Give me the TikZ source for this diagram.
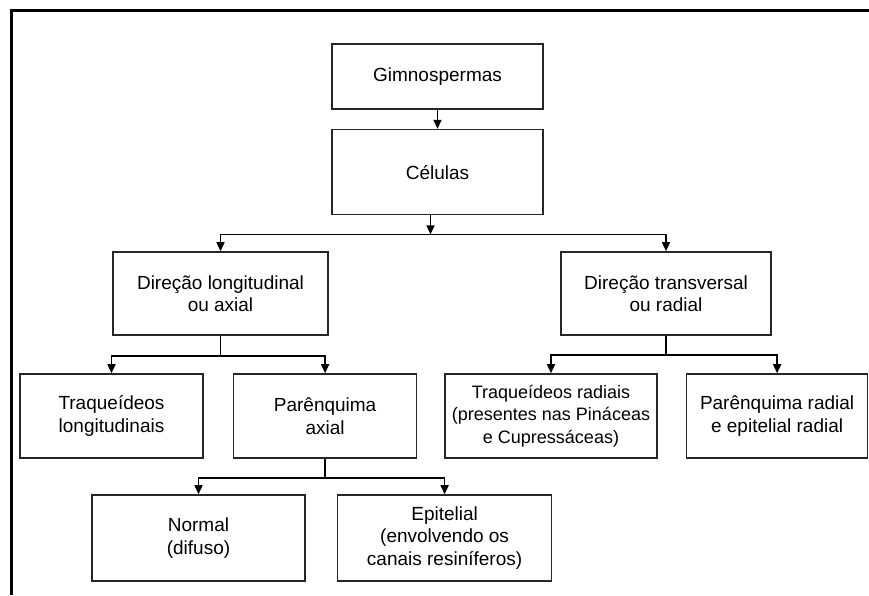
\documentclass[tikz,border=0pt]{standalone}
\usepackage{fontspec}
\setmainfont{Liberation Sans}
\usepackage{tikz}
\usetikzlibrary{arrows.meta,positioning,calc}

\begin{document}
\begin{tikzpicture}[x=1pt, y=-1pt,
  cbox/.style={draw=black!85, line width=1.6pt, minimum height=84pt, align=center,
               font=\fontsize{19}{22.5}\selectfont, inner sep=1pt},
  arrow/.style={-{Triangle[length=9pt,width=8pt]}, line width=1.6pt},
  link/.style={line width=1.6pt}
]
\useasboundingbox (0,0) rectangle (869,595);
\draw[line width=3pt] (11,595) -- (11,10) -- (869,10);

\node[cbox, minimum width=211pt, minimum height=65pt] (gim) at (437.5,76.5) {Gimnospermas};
\node[cbox, minimum width=211pt, minimum height=85pt, below=19pt of gim] (cel) {Células};
\node[cbox, minimum width=215pt, minimum height=83pt] (lon) at (220.5,293.5) {Direção longitudinal\\ ou axial};
\node[cbox, minimum width=210pt, minimum height=83pt] (tra) at (666,293.5) {Direção transversal\\ ou radial};
\node[cbox, minimum width=183pt] (tlon) at (111.5,416) {Traqueídeos\\ longitudinais};
\node[cbox, minimum width=183pt, right=29pt of tlon] (pax) {Parênquima\\ axial};
\node[cbox, minimum width=212pt, font=\fontsize{18}{22.5}\selectfont] (trad) at (551,416) {Traqueídeos radiais\\ (presentes nas Pináceas\\ e Cupressáceas)};
\node[cbox, minimum width=181pt, right=28pt of trad] (prad) {Parênquima radial\\ e epitelial radial};
\node[cbox, minimum width=213pt, minimum height=86pt] (nor) at (198.5,538) {Normal\\ (difuso)};
\node[cbox, minimum width=214pt, minimum height=86pt, right=31pt of nor] (epi) {Epitelial\\ (envolvendo os\\ canais resiníferos)};

\coordinate (j1) at ($(cel.south)+(-7,19)$);
\coordinate (j2) at ($(lon.south)+(0,20)$);
\coordinate (j3) at ($(tra.south)+(0,19)$);
\coordinate (j4) at ($(pax.south)+(0,19)$);

\draw[arrow] (gim) -- (cel);
\draw[arrow] (cel.south -| j1) -- (j1);
\draw[arrow] (j1) -| (lon.north);
\draw[arrow] (j1) -| (tra.north);
\draw[link] (lon.south) -- (j2);
\draw[arrow] (j2) -| (tlon.north);
\draw[arrow] (j2) -| (pax.north);
\draw[link] (tra.south) -- (j3);
\draw[arrow] (j3) -| (trad.north);
\draw[arrow] (j3) -| (prad.north);
\draw[link] (pax.south) -- (j4);
\draw[arrow] (j4) -| (nor.north);
\draw[arrow] (j4) -| (epi.north);
\end{tikzpicture}
\end{document}
